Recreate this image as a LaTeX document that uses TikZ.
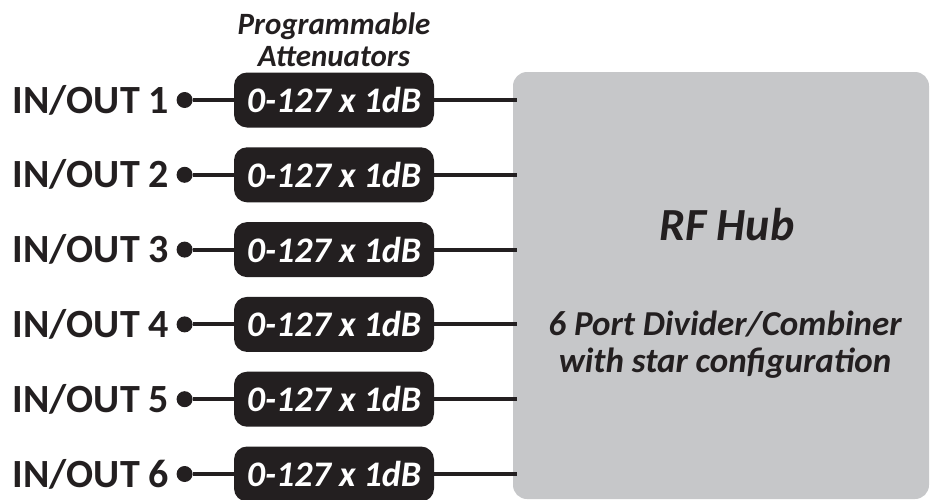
\documentclass[tikz,border=0pt]{standalone}
\usepackage{fontspec}
\setmainfont{Carlito}
\usetikzlibrary{positioning,calc}
\definecolor{hubgray}{HTML}{C6C7C9}
\definecolor{inkblack}{HTML}{231F20}

\begin{document}
\begin{tikzpicture}[x=1pt,y=-1pt,
        atten/.style={fill=inkblack, text=white, rounded corners=13pt,
          minimum width=200pt, minimum height=55pt, inner sep=0pt,
          font=\fontsize{36}{40}\selectfont\bfseries\itshape},
        port/.style={circle, fill=inkblack, minimum size=16pt, inner sep=0pt},
        portlabel/.style={text=inkblack, inner sep=0pt,
          font=\fontsize{40}{44}\selectfont\bfseries},
        wire/.style={draw=inkblack, line width=4pt}]
        \useasboundingbox (0,0) rectangle (930,499);

        % hub on the right
        \fill[hubgray, rounded corners=14pt] (513,72) rectangle (929,499);
        \coordinate (hub) at (513,72);
        \node[text=inkblack, font=\fontsize{46}{50}\selectfont\bfseries\itshape] (hubtitle) at (727,225) {RF Hub};
        \node[text=inkblack, align=center, font=\fontsize{35}{37}\selectfont\bfseries\itshape] (hubtext) at (725,345)
          {6 Port Divider/Combiner\\with star configuration};

        % attenuator rows
        \foreach \i in {1,...,6} {
          \node[atten] (att\i) at (334,{100+74.8*(\i-1)}) {0-127 x 1dB};
          \node[port, left=41pt of att\i] (dot\i) {};
          \node[portlabel, left=7pt of dot\i] (lab\i) {IN/OUT \i};
          \draw[wire] (dot\i) -- (att\i);
          \draw[wire] (att\i.east) -- (att\i.east -| hub) -- ++(4,0);
        }

        \node[text=inkblack, align=center, inner sep=0pt,
          font=\fontsize{31}{32}\selectfont\bfseries\itshape] (attlabel) at (334,40)
          {Programmable\\Attenuators};
\end{tikzpicture}
\end{document}
